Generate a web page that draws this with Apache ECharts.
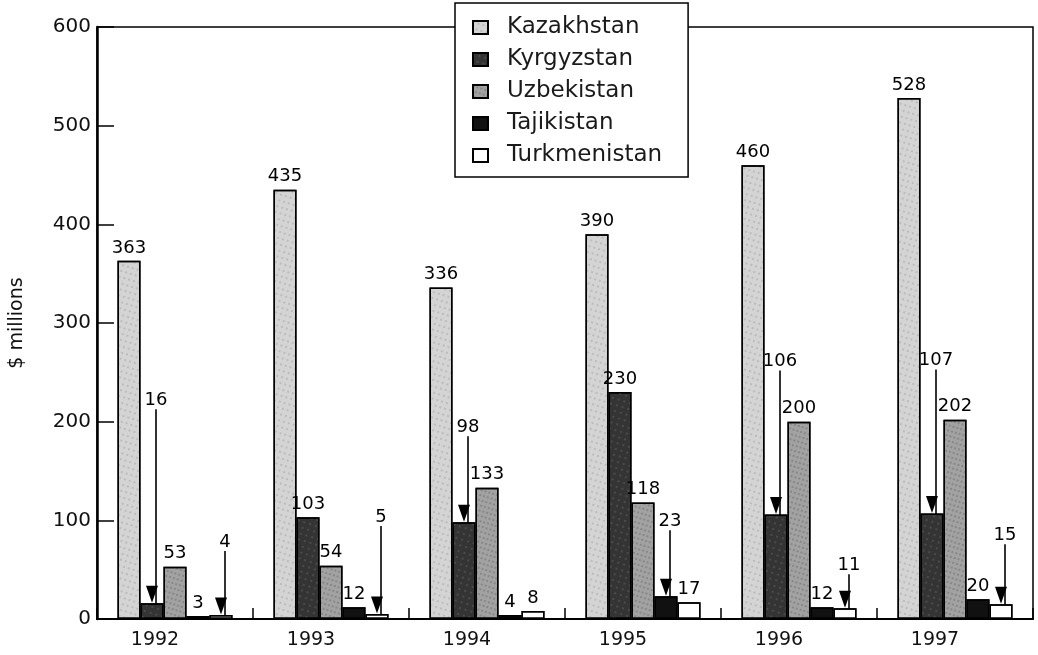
<!DOCTYPE html>
<html><head><meta charset="utf-8">
<script src="https://cdn.jsdelivr.net/npm/echarts@6/dist/echarts.min.js"></script>
<style>html,body{margin:0;padding:0;background:#fff}#c{width:1038px;height:655px}</style>
</head><body><div id="c"></div>
<script>
const years = ['1992','1993','1994','1995','1996','1997'];
const countries = ['Kazakhstan','Kyrgyzstan','Uzbekistan','Tajikistan','Turkmenistan'];
const kazakhstan = [363,435,336,390,460,528];
const kyrgyzstan = [16,103,98,230,106,107];
const uzbekistan = [53,54,133,118,200,202];
const tajikistan = [3,12,4,23,12,20];
const turkmenistan = [4,5,8,17,11,15];
const yTickStep = 100;
// which values carry an arrow annotation in the original
const arrowed = {
  Kyrgyzstan:   [true,false,true,false,true,true],
  Tajikistan:   [false,false,false,true,false,false],
  Turkmenistan: [true,true,false,false,true,true]
};

// ---- style config (not data) ----
const labelLift = {
  Kyrgyzstan:   [190,0,82,0,140,140],
  Tajikistan:   [0,0,0,62,0,0],
  Turkmenistan: [60,84,0,0,30,56]
};
const seriesStyle = {
  Kazakhstan:   {color:'#d4d4d4', decal:{symbol:'circle', symbolSize:0.9, dashArrayX:[[2,3]], dashArrayY:[2,4], rotation:0.3, color:'rgba(110,110,110,0.35)'}},
  Kyrgyzstan:   {color:'#343434', decal:{symbol:'circle', symbolSize:0.9, dashArrayX:[[2,4]], dashArrayY:[2,4], rotation:0.3, color:'rgba(150,150,150,0.35)'}},
  Uzbekistan:   {color:'#a2a2a2', decal:{symbol:'circle', symbolSize:0.9, dashArrayX:[[2,2]], dashArrayY:[2,3], rotation:0.3, color:'rgba(50,50,50,0.35)'}},
  Tajikistan:   {color:'#111111', decal:{symbol:'none'}},
  Turkmenistan: {color:'#ffffff', decal:{symbol:'none'}}
};
const FONT = 'DejaVu Sans';
const valuesByCountry = {
  Kazakhstan: kazakhstan, Kyrgyzstan: kyrgyzstan, Uzbekistan: uzbekistan,
  Tajikistan: tajikistan, Turkmenistan: turkmenistan
};

const series = countries.map(name => {
  const vals = valuesByCountry[name];
  const arr = arrowed[name] || vals.map(() => false);
  const lift = labelLift[name] || vals.map(() => 0);
  return {
    name, type: 'bar',
    barWidth: 23, barGap: '0%',
    itemStyle: {color: seriesStyle[name].color, borderColor:'#000', borderWidth:1.5, decal: seriesStyle[name].decal},
    label: {show:true, position:'top', distance:4, color:'#000', fontFamily:FONT, fontSize:18},
    labelLine: {show:false, lineStyle:{color:'#000', width:1.6}},
    labelLayout: p => (lift[p.dataIndex] ? {dy: -lift[p.dataIndex], dx: 4} : {}),
    data: vals.map((v, i) => ({value: v, labelLine: {show: arr[i]}})),
    markPoint: {
      silent: true,
      label: {show:false},
      symbol: 'triangle', symbolRotate: 180, symbolSize: [12, 17], symbolOffset: [0, -9],
      itemStyle: {color:'#000', borderWidth:0},
      data: vals.map((v, i) => arr[i] ? {coord: [i, v]} : null).filter(Boolean)
    }
  };
});

const chart = echarts.init(document.getElementById('c'), null, {renderer:'canvas'});
chart.setOption({
  backgroundColor: '#fff',
  animation: false,
  aria: {enabled: true, decal: {show: true}},
  grid: {left: 97, right: 5, top: 27, bottom: 36, show: true, borderColor:'#000', borderWidth:1.5, backgroundColor:'transparent'},
  legend: {
    orient: 'vertical', left: 455, top: 3,
    backgroundColor: '#fff', borderColor: '#000', borderWidth: 1.5,
    padding: [13, 26, 10, 17],
    icon: 'rect',
    itemWidth: 15, itemHeight: 13, itemGap: 9,
    textStyle: {fontFamily: FONT, fontSize: 23, color: '#1a1a1a', padding: [0, 0, 0, 14]},
    data: countries
  },
  xAxis: {
    type: 'category', data: years,
    axisLine: {lineStyle: {color:'#000', width: 2}},
    axisTick: {show: true, inside: true, length: 11, lineStyle: {color:'#000', width: 1.5}},
    axisLabel: {fontFamily: FONT, fontSize: 19, color: '#111', margin: 12, padding: [0, 40, 0, 0]}
  },
  yAxis: {
    type: 'value', min: 0, max: 600, interval: yTickStep,
    name: '$ millions', nameLocation: 'middle', nameRotate: 90, nameGap: 70,
    nameTextStyle: {fontFamily: FONT, fontSize: 19, color: '#111'},
    axisLine: {show: true, lineStyle: {color:'#000', width: 2.5}},
    axisTick: {show: true, inside: true, length: 17, lineStyle: {color:'#000', width: 1.5}},
    splitLine: {show: false},
    axisLabel: {fontFamily: FONT, fontSize: 20, color: '#111', margin: 6}
  },
  series
});
</script></body></html>
